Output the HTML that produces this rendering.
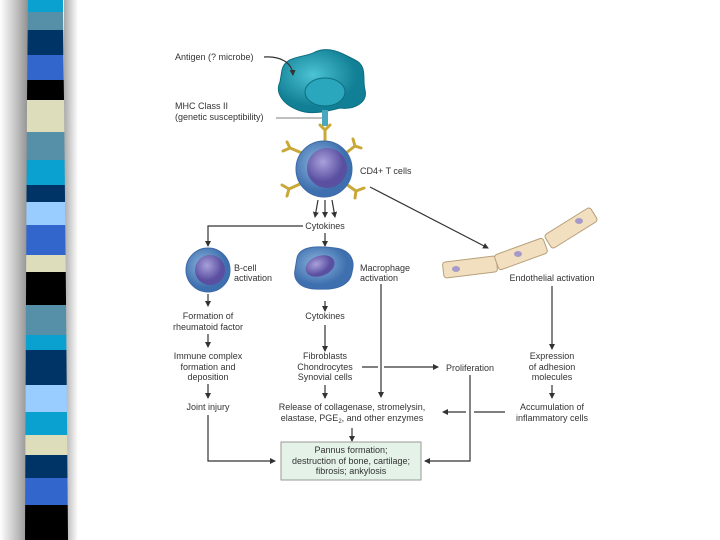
<!DOCTYPE html>
<html><head><meta charset="utf-8"><style>
html,body{margin:0;padding:0;width:720px;height:540px;overflow:hidden;background:#fff}
</style></head><body>
<svg width="720" height="540" viewBox="0 0 720 540" xmlns="http://www.w3.org/2000/svg" font-family="Liberation Sans, sans-serif" font-size="9" fill="#333">
<defs>
<linearGradient id="sh" x1="0" x2="1"><stop offset="0" stop-color="#fff"/><stop offset="0.6" stop-color="#bbb"/><stop offset="1" stop-color="#888"/></linearGradient>
<linearGradient id="sh2" x1="0" x2="1"><stop offset="0" stop-color="#aaa"/><stop offset="1" stop-color="#fff"/></linearGradient>
<clipPath id="bar"><path d="M28,0 L63,0 L64,100 L66,300 L68,540 L25,540 L26,300 L27,100 Z"/></clipPath>
<marker id="a" markerWidth="6" markerHeight="6" refX="5" refY="3" orient="auto" markerUnits="userSpaceOnUse"><path d="M0,0 L6,3 L0,6 Z" fill="#333"/></marker>
<radialGradient id="tc" cx="0.4" cy="0.4"><stop offset="0" stop-color="#8fb8e0"/><stop offset="1" stop-color="#3e6fae"/></radialGradient>
<radialGradient id="nu" cx="0.4" cy="0.35"><stop offset="0" stop-color="#a9a0dc"/><stop offset="1" stop-color="#5a4fa0"/></radialGradient>
<radialGradient id="ap" cx="0.4" cy="0.4"><stop offset="0" stop-color="#4cc3d4"/><stop offset="1" stop-color="#117f95"/></radialGradient>
</defs>
<rect x="0" y="0" width="30" height="540" fill="url(#sh)"/>
<rect x="64" y="0" width="14" height="540" fill="url(#sh2)"/>
<g clip-path="url(#bar)">
<rect x="0" y="0" width="80" height="12" fill="#0aa0d0"/>
<rect x="0" y="12" width="80" height="18" fill="#5590a8"/>
<rect x="0" y="30" width="80" height="25" fill="#003366"/>
<rect x="0" y="55" width="80" height="25" fill="#3366cc"/>
<rect x="0" y="80" width="80" height="20" fill="#000"/>
<rect x="0" y="100" width="80" height="32" fill="#ddddbb"/>
<rect x="0" y="132" width="80" height="28" fill="#5590a8"/>
<rect x="0" y="160" width="80" height="25" fill="#0aa0d0"/>
<rect x="0" y="185" width="80" height="17" fill="#003366"/>
<rect x="0" y="202" width="80" height="23" fill="#99ccff"/>
<rect x="0" y="225" width="80" height="30" fill="#3366cc"/>
<rect x="0" y="255" width="80" height="17" fill="#ddddbb"/>
<rect x="0" y="272" width="80" height="33" fill="#000"/>
<rect x="0" y="305" width="80" height="30" fill="#5590a8"/>
<rect x="0" y="335" width="80" height="15" fill="#0aa0d0"/>
<rect x="0" y="350" width="80" height="35" fill="#003366"/>
<rect x="0" y="385" width="80" height="27" fill="#99ccff"/>
<rect x="0" y="412" width="80" height="23" fill="#0aa0d0"/>
<rect x="0" y="435" width="80" height="20" fill="#ddddbb"/>
<rect x="0" y="455" width="80" height="23" fill="#003366"/>
<rect x="0" y="478" width="80" height="27" fill="#3366cc"/>
<rect x="0" y="505" width="80" height="35" fill="#000"/>
</g>

<!-- APC -->
<path d="M282,70 C285,55 305,58 315,52 C330,45 345,55 355,60 C368,66 362,80 365,90 C368,102 355,110 340,108 C325,112 310,115 298,110 C282,104 275,92 280,82 Z" fill="url(#ap)" stroke="#0d6d80" stroke-width="1"/>
<ellipse cx="325" cy="92" rx="20" ry="14" fill="#2aa7bd" stroke="#0d6d80"/>
<text x="175" y="60">Antigen (? microbe)</text>
<path d="M264,57 C280,56 292,62 293,75" fill="none" stroke="#333" stroke-width="1.2" marker-end="url(#a)"/>
<text x="175" y="109">MHC Class II</text>
<text x="175" y="120">(genetic susceptibility)</text>
<line x1="276" y1="118" x2="322" y2="118" stroke="#555" stroke-width="0.8"/>
<rect x="322" y="110" width="6" height="16" fill="#4aa7c0"/>
<!-- T cell -->
<g stroke="#c9a838" stroke-width="3" fill="none" stroke-linecap="round">
<path d="M325,142 L325,130 M325,130 L320,125 M325,130 L330,125"/>
<path d="M302,153 L290,148 M290,148 L283,151 M290,148 L287,142"/>
<path d="M346,153 L355,146 M355,146 L361,148 M355,146 L353,139"/>
<path d="M300,184 L289,189 M289,189 L282,185 M289,189 L287,196"/>
<path d="M346,184 L356,191 M356,191 L364,188 M356,191 L355,198"/>
</g>
<circle cx="324" cy="169" r="28" fill="url(#tc)" stroke="#3d6aa8"/>
<circle cx="327" cy="168" r="20" fill="url(#nu)"/>
<text x="360" y="174">CD4+ T cells</text>
<line x1="370" y1="187" x2="488" y2="248" stroke="#333" stroke-width="1.2" marker-end="url(#a)"/>
<g stroke="#333" stroke-width="1.2" marker-end="url(#a)">
<line x1="318" y1="200" x2="315" y2="217"/><line x1="325" y1="200" x2="325" y2="217"/><line x1="332" y1="200" x2="335" y2="217"/>
</g>
<text x="325" y="229" text-anchor="middle">Cytokines</text>
<path d="M303,226 L208,226 L208,246" fill="none" stroke="#333" stroke-width="1.2" marker-end="url(#a)"/>
<line x1="325" y1="233" x2="325" y2="246" stroke="#333" stroke-width="1.2" marker-end="url(#a)"/>

<!-- B cell -->
<circle cx="208" cy="270" r="22" fill="url(#tc)" stroke="#3d6aa8"/>
<circle cx="210" cy="270" r="15" fill="url(#nu)"/>
<text x="234" y="271">B-cell</text><text x="234" y="281">activation</text>
<!-- macrophage -->
<path d="M297,258 C300,245 320,246 335,248 C352,250 355,262 352,272 C350,286 335,290 320,289 C300,290 293,280 295,270 Z" fill="url(#tc)" stroke="#3d6aa8"/>
<ellipse cx="320" cy="266" rx="15" ry="10" transform="rotate(-20 320 266)" fill="url(#nu)"/>
<text x="360" y="271">Macrophage</text><text x="360" y="281">activation</text>
<!-- endothelial -->
<g fill="#f2dfbf" stroke="#b8a07a">
<rect x="443" y="259" width="54" height="16" rx="3" transform="rotate(-7 470 267)"/>
<rect x="495" y="246" width="52" height="16" rx="3" transform="rotate(-20 521 254)"/>
<rect x="544" y="220" width="54" height="16" rx="3" transform="rotate(-32 571 228)"/>
</g>
<g fill="#a59ac9"><ellipse cx="456" cy="269" rx="4" ry="3"/><ellipse cx="518" cy="254" rx="4" ry="3"/><ellipse cx="579" cy="221" rx="4" ry="3"/></g>
<text x="552" y="281" text-anchor="middle">Endothelial activation</text>

<g stroke="#333" stroke-width="1.2" fill="none" marker-end="url(#a)">
<line x1="208" y1="294" x2="208" y2="306"/>
<line x1="208" y1="334" x2="208" y2="347"/>
<line x1="208" y1="384" x2="208" y2="398"/>
<path d="M208,415 L208,461 L275,461"/>
<line x1="325" y1="301" x2="325" y2="311"/>
<line x1="325" y1="325" x2="325" y2="351"/>
<path d="M362,367 L378,367 M384,367 L438,367"/>
<line x1="325" y1="385" x2="325" y2="398"/>
<line x1="381" y1="284" x2="381" y2="397"/>
<path d="M470,375 L470,461 L425,461"/>
<line x1="352" y1="428" x2="352" y2="441"/>
<line x1="552" y1="286" x2="552" y2="349"/>
<line x1="552" y1="385" x2="552" y2="398"/>
<path d="M505,412 L474,412 M466,412 L443,412"/>
</g>
<g text-anchor="middle">
<text x="208" y="319">Formation of</text><text x="208" y="330">rheumatoid factor</text>
<text x="208" y="359">Immune complex</text><text x="208" y="370">formation and</text><text x="208" y="380">deposition</text>
<text x="208" y="410">Joint injury</text>
<text x="325" y="319">Cytokines</text>
<text x="325" y="359">Fibroblasts</text><text x="325" y="370">Chondrocytes</text><text x="325" y="380">Synovial cells</text>
<text x="470" y="371">Proliferation</text>
<text x="352" y="410">Release of collagenase, stromelysin,</text>
<text x="352" y="421">elastase, PGE<tspan font-size="6" dy="2">2</tspan><tspan dy="-2">, and other enzymes</tspan></text>
<text x="552" y="359">Expression</text><text x="552" y="370">of adhesion</text><text x="552" y="380">molecules</text>
<text x="552" y="410">Accumulation of</text><text x="552" y="421">inflammatory cells</text>
</g>
<rect x="281" y="442" width="140" height="38" fill="#e4f2e8" stroke="#999"/>
<g text-anchor="middle"><text x="351" y="453">Pannus formation;</text><text x="351" y="464">destruction of bone, cartilage;</text><text x="351" y="474">fibrosis; ankylosis</text></g>
</svg>
</body></html>
